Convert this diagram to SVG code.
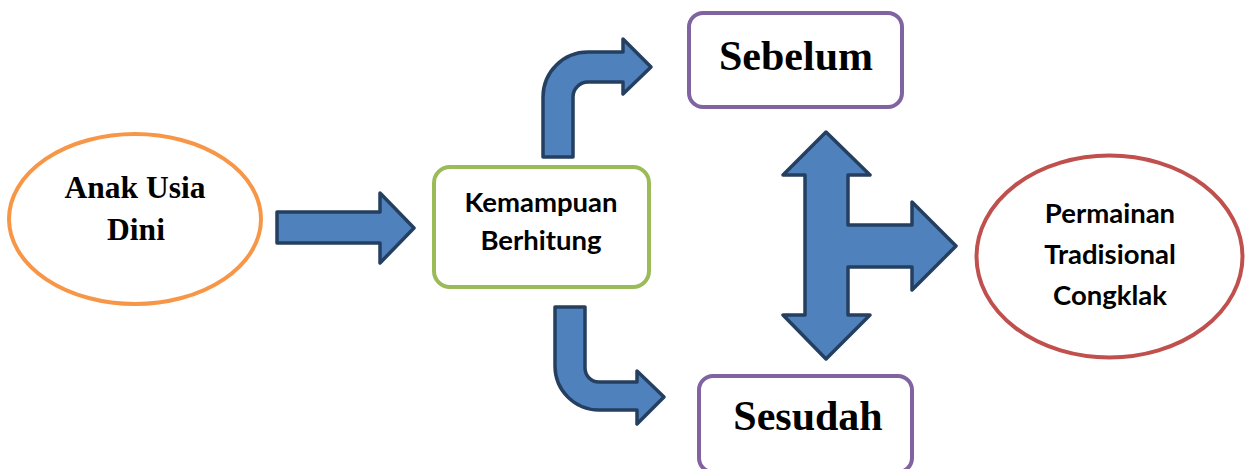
<svg xmlns="http://www.w3.org/2000/svg" width="1248" height="469" viewBox="0 0 1248 469">
<style>
.arrow{fill:#4F81BD;stroke:#243F60;stroke-width:3.5;stroke-linejoin:round}
.serif{font-family:"Liberation Serif","Times New Roman",serif;font-weight:bold;fill:#000;text-anchor:middle}
.sans{font-family:Lato,"Open Sans",sans-serif;font-weight:bold;fill:#000;text-anchor:middle}
</style>
<rect width="1248" height="469" fill="#fff"/>
<g id="connectors">
<path class="arrow" d="M277,212 H380 V193 L414,228 L380,263 V243 H277 Z"/>
<path class="arrow" d="M543,157 V97 A45,45 0 0 1 588,52 H623 V39 L651,67 L623,94 V82 H588 A15,15 0 0 0 573,97 V157 Z"/>
<path class="arrow" d="M555,307 H585 V368 A14,14 0 0 0 599,382 H637 V371 L664,397 L637,424 V410 H599 A44,44 0 0 1 555,366 Z"/>
<path class="arrow" d="M826,132 L870,175 H848 V225 H912 V202 L956,246 L912,290 V267 H848 V315 H870 L826,359 L783,315 H805 V175 H783 Z"/>
</g>
<g id="anak">
<ellipse cx="135" cy="219" rx="126" ry="85" fill="#fff" stroke="#F79646" stroke-width="4"/>
<text class="serif" x="135" y="198" font-size="31.5">Anak Usia</text>
<text class="serif" x="136" y="240" font-size="31.5">Dini</text>
</g>
<g id="kemampuan">
<rect x="434" y="167" width="215" height="120" rx="16" fill="#fff" stroke="#9BBB59" stroke-width="4"/>
<text class="sans" x="541" y="212" font-size="27.5">Kemampuan</text>
<text class="sans" x="541" y="250" font-size="27.5">Berhitung</text>
</g>
<g id="sebelum">
<rect x="689" y="13" width="213" height="94" rx="14" fill="#fff" stroke="#8064A2" stroke-width="4"/>
<text class="serif" x="796" y="70" font-size="42">Sebelum</text>
</g>
<g id="sesudah">
<rect x="699" y="376" width="213" height="96" rx="14" fill="#fff" stroke="#8064A2" stroke-width="4"/>
<text class="serif" x="808" y="430" font-size="42">Sesudah</text>
</g>
<g id="permainan">
<ellipse cx="1109.5" cy="256.5" rx="133" ry="101" fill="#fff" stroke="#C0504D" stroke-width="4"/>
<text class="sans" x="1110" y="223" font-size="27.5">Permainan</text>
<text class="sans" x="1110" y="264" font-size="27.5">Tradisional</text>
<text class="sans" x="1110" y="305" font-size="27.5">Congklak</text>
</g>
</svg>
